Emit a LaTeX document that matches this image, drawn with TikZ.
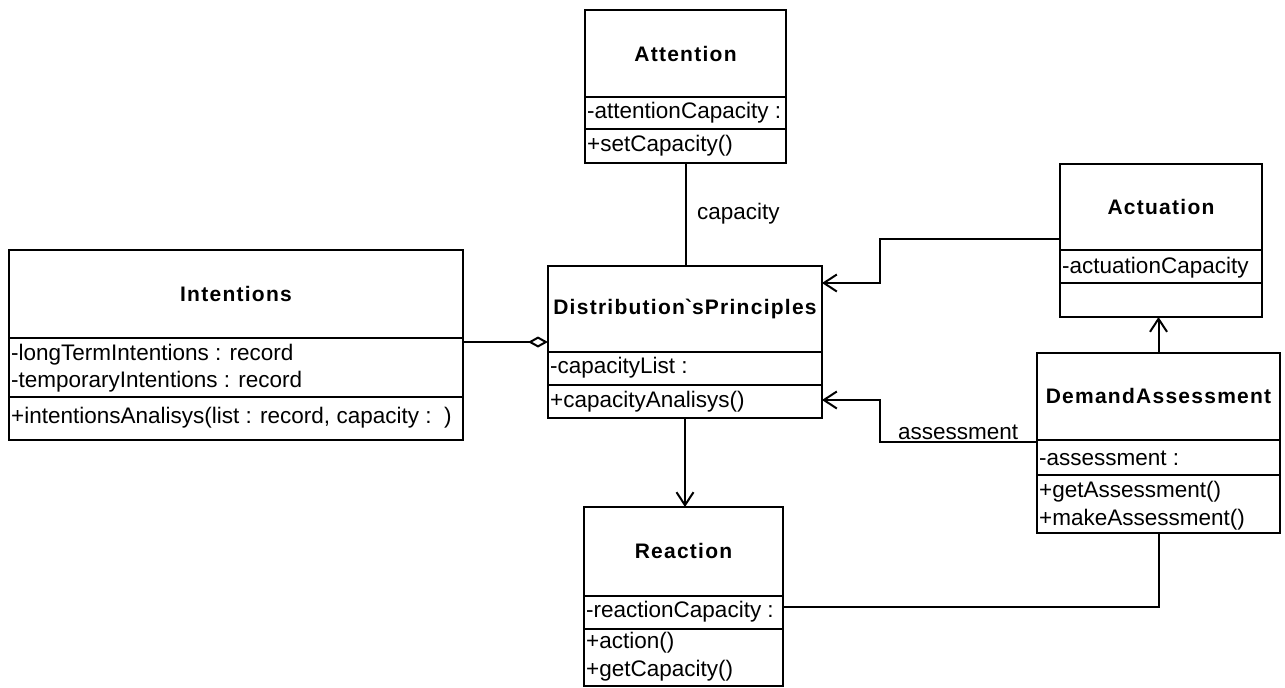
\documentclass[tikz,border=0pt]{standalone}
\usepackage{fontspec}
\setmainfont{Liberation Sans}
\newfontfamily\titlefont{Liberation Sans}[LetterSpace=6]
\usetikzlibrary{arrows.meta}
\begin{document}
\begin{tikzpicture}[x=1pt,y=-1pt,
  box/.style={draw, line width=2pt, anchor=north west, inner sep=0pt, outer sep=0pt},
  rule/.style={line width=1.8pt},
  title/.style={font=\titlefont\bfseries\fontsize{21}{24}\selectfont, inner sep=0pt},
  member/.style={anchor=west, inner sep=0pt, font=\fontsize{22.5}{24}\selectfont},
  lbl/.style={anchor=west, inner sep=0pt, font=\fontsize{22.5}{24}\selectfont},
  conn/.style={line width=2pt},
  nav/.style={conn, -{Straight Barb[length=13pt,width=17pt,line width=2pt]}},
  agg/.style={conn, -{Diamond[open,length=20pt,width=11pt,line width=2pt]}}
]
\useasboundingbox (0,0) rectangle (1285,688);

% Attention
\node[box, minimum width=201pt, minimum height=153pt] (att) at (585,10) {};
\draw[rule] (585,97) -- (786,97);
\draw[rule] (585,129) -- (786,129);
\node[title] (att-t) at (685.5,53.5) {Attention};
\node[member] (att-a) at (587,113) {-attentionCapacity :};
\node[member] (att-m) at (587,146) {+setCapacity()};

% Intentions
\node[box, minimum width=454pt, minimum height=190pt] (int) at (9,250) {};
\draw[rule] (9,338) -- (463,338);
\draw[rule] (9,397) -- (463,397);
\node[title] (int-t) at (236,294) {Intentions};
\node[member] (int-a1) at (11,355) {-longTermIntentions : record};
\node[member] (int-a2) at (11,382) {-temporaryIntentions : record};
\node[member] (int-m) at (11,418) {+intentionsAnalisys(list : record, capacity :~~)};

% Distribution's principles
\node[box, minimum width=274pt, minimum height=152pt] (dist) at (548,266) {};
\draw[rule] (548,352) -- (822,352);
\draw[rule] (548,385) -- (822,385);
\node[title] (dist-t) at (685,309) {Distribution\textasciigrave sPrinciples};
\node[member] (dist-a) at (550,368) {-capacityList :};
\node[member] (dist-m) at (550,402) {+capacityAnalisys()};

% Actuation
\node[box, minimum width=202pt, minimum height=153pt] (act) at (1060,164) {};
\draw[rule] (1060,250) -- (1262,250);
\draw[rule] (1060,283) -- (1262,283);
\node[title] (act-t) at (1161,207) {Actuation};
\node[member] (act-a) at (1062,268) {-actuationCapacity};

% DemandAssessment
\node[box, minimum width=243pt, minimum height=180pt] (dem) at (1037,353) {};
\draw[rule] (1037,440) -- (1280,440);
\draw[rule] (1037,475) -- (1280,475);
\node[title] (dem-t) at (1158.5,396) {DemandAssessment};
\node[member] (dem-a) at (1039,458) {-assessment :};
\node[member] (dem-m1) at (1039,492) {+getAssessment()};
\node[member] (dem-m2) at (1039,520) {+makeAssessment()};

% Reaction
\node[box, minimum width=199pt, minimum height=179pt] (react) at (584,507) {};
\draw[rule] (584,596) -- (783,596);
\draw[rule] (584,629) -- (783,629);
\node[title] (react-t) at (683.5,551) {Reaction};
\node[member] (react-a) at (586,612) {-reactionCapacity :};
\node[member] (react-m1) at (586,643) {+action()};
\node[member] (react-m2) at (586,671) {+getCapacity()};

% connector end points and bends
\coordinate (act-out) at (1060,239);
\coordinate (bend-a) at (880,283);
\coordinate (dist-in1) at (822,283);
\coordinate (dem-out) at (1037,442);
\coordinate (bend-b) at (880,400);
\coordinate (dist-in2) at (822,400);
\coordinate (react-in) at (783,607);

% associations
\draw[conn] (att.south) -- (att.south |- dist.north);
\node[lbl] (cap) at (697,214) {capacity};
\draw[agg] (int.east |- dist.west) -- (dist.west);
\draw[nav] (act-out) -| (bend-a) -- (dist-in1);
\draw[nav] (dem-out) -| (bend-b) -- (dist-in2);
\node[lbl] (ass) at (898,432) {assessment};
\draw[nav] (dem.north) -- (dem.north |- act.south);
\draw[nav] (dist.south) -- (dist.south |- react.north);
\draw[conn] (dem.south) |- (react-in);
\end{tikzpicture}
\end{document}
